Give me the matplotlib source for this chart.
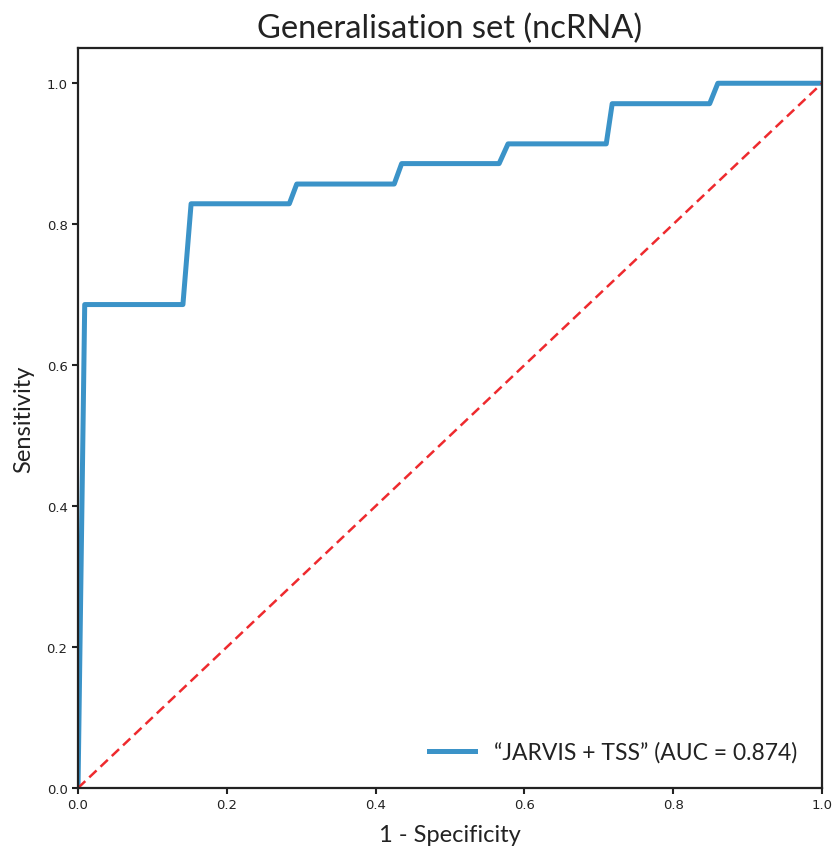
import matplotlib
matplotlib.use('Agg')
import matplotlib.pyplot as plt

# ROC curve points (false positive rate, true positive rate)
fpr = [0.0, 0.009, 0.141, 0.152, 0.284, 0.294, 0.425, 0.435, 0.566, 0.578, 0.710, 0.718, 0.849, 0.860, 1.0]
tpr = [0.0, 0.686, 0.686, 0.829, 0.829, 0.857, 0.857, 0.886, 0.886, 0.914, 0.914, 0.971, 0.971, 1.0, 1.0]
auc = 0.874
label = '\u201cJARVIS + TSS\u201d (AUC = %.3f)' % auc

fig = plt.figure(figsize=(8.38, 8.54), dpi=100)
ax = fig.add_axes([0.0931, 0.0761, 0.8878, 0.8665])

ax.plot(fpr, tpr, color='#3b93c8', lw=3.6, label=label)
ax.plot([0, 1], [0, 1], color='#ee2a2e', lw=1.8, ls='--', dashes=(4, 2.2))

ax.set_xlim(0, 1)
ax.set_ylim(0, 1.05)
ax.set_xticks([0, 0.2, 0.4, 0.6, 0.8, 1.0])
ax.set_yticks([0, 0.2, 0.4, 0.6, 0.8, 1.0])
ax.tick_params(labelsize=9.5, length=4, width=1.5, colors='#222222')
for s in ax.spines.values():
    s.set_linewidth(1.6)
    s.set_color('#222222')

font = ['Lato', 'DejaVu Sans']
ax.set_title('Generalisation set (ncRNA)', fontsize=23.5, family=font, color='#222222', pad=8)
ax.set_xlabel('1 - Specificity', fontsize=17, family=font, color='#222222', labelpad=9)
ax.set_ylabel('Sensitivity', fontsize=17, family=font, color='#222222', labelpad=9)

leg = ax.legend(loc='lower right', frameon=False, handlelength=2.0,
                prop={'family': font, 'size': 16.5}, borderaxespad=0.7)
for t in leg.get_texts():
    t.set_color('#222222')

fig.savefig('out.png', dpi=100)
